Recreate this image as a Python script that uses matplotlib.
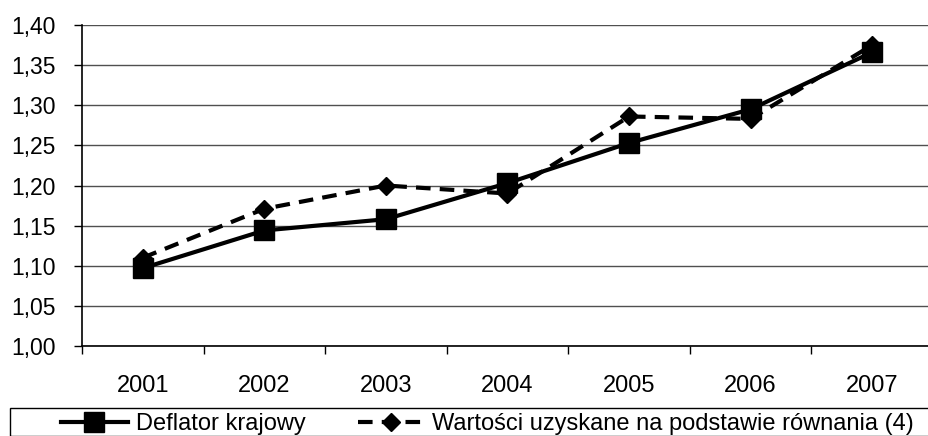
import matplotlib
matplotlib.use("Agg")
import matplotlib.pyplot as plt
from matplotlib.ticker import FixedLocator, FuncFormatter
from matplotlib.patches import Rectangle

years = ["2001", "2002", "2003", "2004", "2005", "2006", "2007"]
deflator = [1.097, 1.144, 1.158, 1.203, 1.253, 1.295, 1.366]
equation = [1.110, 1.171, 1.200, 1.190, 1.286, 1.283, 1.375]
label_deflator = "Deflator krajowy"
label_equation = "Wartości uzyskane na podstawie równania (4)"

plt.rcParams['font.family'] = ['Liberation Sans', 'DejaVu Sans']

W, H = 929, 436
fig = plt.figure(figsize=(W / 100, H / 100), dpi=100)
left, right, top, bottom = 82, 933, 25, 346
ax = fig.add_axes([left / W, 1 - bottom / H, (right - left) / W, (bottom - top) / H])

x = list(range(1, len(years) + 1))
l2, = ax.plot(x, equation, color='black', lw=3, linestyle=(0, (3.5, 2.2)),
              marker='D', markersize=9.5, zorder=3, label=label_equation)
l1, = ax.plot(x, deflator, color='black', lw=3, marker='s', markersize=14,
              zorder=4, label=label_deflator)

ax.set_xlim(0.5, len(years) + 0.5)
ax.set_ylim(1.0, 1.4)
yt = [1.0 + 0.05 * i for i in range(9)]
ax.set_yticks(yt)
ax.yaxis.set_major_formatter(FuncFormatter(lambda v, p: f"{v:.2f}".replace('.', ',')))
ax.yaxis.grid(True, color='#505050', lw=1)
ax.set_axisbelow(True)

ax.set_xticks(x)
ax.set_xticklabels(years)
ax.xaxis.set_minor_locator(FixedLocator([i + 0.5 for i in range(0, len(years) + 1)]))
ax.tick_params(axis='x', which='major', length=0, pad=21, labelsize=17)
ax.tick_params(axis='x', which='minor', length=6, width=1, direction='out')
ax.tick_params(axis='y', length=6, width=1, direction='out', pad=13, labelsize=16.5)

for s in ['top', 'right']:
    ax.spines[s].set_visible(False)
ax.spines['left'].set_linewidth(1.2)
ax.spines['bottom'].set_linewidth(1.2)

# legend box
fig.patches.append(Rectangle((10 / W, 0), (940 - 10) / W, (436 - 408) / H + 0.0,
                             transform=fig.transFigure, fill=False, edgecolor='black',
                             lw=1, clip_on=False))
leg = fig.legend(handles=[l1, l2], loc='center left', bbox_to_anchor=(52 / W, 1 - 424 / H),
                 ncol=2, frameon=False, fontsize=17, handlelength=2.8,
                 handletextpad=0.35, columnspacing=2.2, borderaxespad=0)

fig.savefig("out.png", dpi=100)
